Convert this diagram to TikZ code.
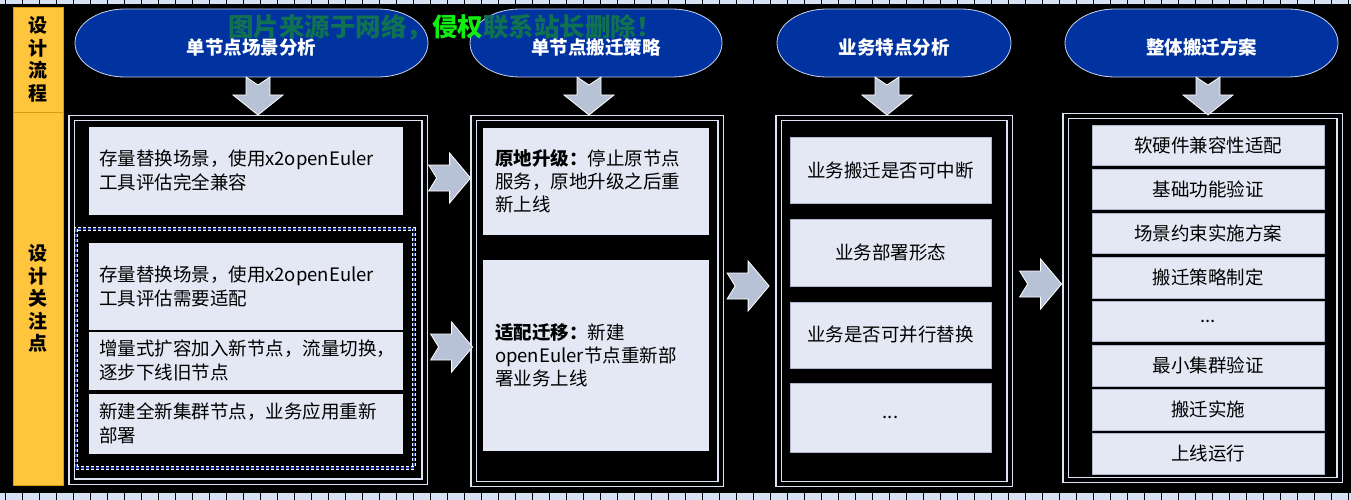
\documentclass[tikz,border=0pt]{standalone}
\usepackage{fontspec}
\setmainfont{Noto Sans CJK SC}
\usetikzlibrary{calc}
\definecolor{capblue}{HTML}{0033A0}
\definecolor{capedge}{HTML}{C8D4F0}
\definecolor{boxfill}{HTML}{E4E8F4}
\definecolor{boxedge}{HTML}{AEB6CC}
\definecolor{arrowfill}{HTML}{B7C2D6}
\definecolor{ybar}{HTML}{FFC53D}
\definecolor{yedge}{HTML}{D89A10}
\definecolor{stripc}{HTML}{D6E2F4}
\definecolor{wmteal}{HTML}{0F7052}
\definecolor{wmgreen}{HTML}{11EE11}
\definecolor{dashblue}{HTML}{2B4CC0}
\definecolor{framec}{HTML}{DCE3F4}
\newcommand\capsulepath[2]{(#1+50,9) -- (#2-50,9) .. controls (#2-22.4,9) and (#2,24.2) .. (#2,43) .. controls (#2,61.8) and (#2-22.4,77) .. (#2-50,77) -- (#1+50,77) .. controls (#1+22.4,77) and (#1,61.8) .. (#1,43) .. controls (#1,24.2) and (#1+22.4,9) .. (#1+50,9) -- cycle}
\tikzset{
  body/.style={font=\fontsize{18.5}{24}\selectfont, text=black},
  titletext/.style={font=\bfseries\fontsize{18.5}{22}\selectfont, text=white, inner sep=0},
  capsulestyle/.style={fill=capblue, draw=capedge, line width=0.8},
  ybox/.style={fill=ybar, draw=yedge, line width=0.8, minimum width=50, inner sep=0, align=center,
    font=\bfseries\fontsize{19}{22.5}\selectfont, text=black},
  frame/.style={draw=framec, double=black, double distance=4, line width=1.2, inner sep=0},
  dashframe/.style={draw=dashblue, line width=1.6, dash pattern=on 3pt off 2pt, inner sep=0,
    preaction={draw=white, line width=3.4}},
  box/.style={fill=boxfill, draw=boxedge, line width=0.6, inner sep=0, body, align=center},
  lbox/.style={fill=boxfill, draw=black, line width=0.8, inner ysep=0, body, align=left},
  wm/.style={font=\bfseries\fontsize{25.5}{25.5}\selectfont, inner sep=0, outer sep=0, anchor=west},
  darr/.pic={\path[fill=arrowfill, draw=white, line width=0.8]
    (-12,0) -- (-12,18) -- (-25,18) -- (0,38) -- (25,18) -- (12,18) -- (12,0) -- (0,8) -- cycle;},
  rarr/.pic={\path[fill=arrowfill, draw=white, line width=0.8]
    (0,-13) -- (21,-13) -- (21,-25) -- (42,0) -- (21,25) -- (21,13) -- (0,13) -- (8,0) -- cycle;}
}
\begin{document}
\begin{tikzpicture}[x=1pt,y=-1pt]
\useasboundingbox (0,0) rectangle (1351,500);
\fill[black] (0,0) rectangle (1351,500);
% edge strips
\fill[stripc] (0,0) rectangle (1351,4);
\fill[stripc] (0,493) rectangle (1351,500);
\foreach \i in {0,...,79} {
  \draw[black, line width=1] (5+17*\i,0) -- (5+17*\i,4);
  \draw[black, line width=1] (5+17*\i,493) -- (5+17*\i,500);
}
% left yellow bar
\node[ybox, minimum height=105] (y1) at (38,59.5) {设\\计\\流\\程};
\node[ybox, minimum height=373] (y2) at (38,298.5) {设\\计\\关\\注\\点};
% capsules
\path[capsulestyle] \capsulepath{75}{428};
\path[capsulestyle] \capsulepath{470}{722};
\path[capsulestyle] \capsulepath{777}{1011};
\path[capsulestyle] \capsulepath{1065}{1338};
\node[titletext] (t1) at (251.5,47) {单节点场景分析};
\node[titletext] (t2) at (596,47) {单节点搬迁策略};
\node[titletext] (t3) at (894,47) {业务特点分析};
\node[titletext] (t4) at (1201.5,47) {整体搬迁方案};
% watermark
\node[wm, text=wmteal] (wm1) at (228,27) {图片来源于网络，};
\node[wm, text=wmgreen] (wm2) at (wm1.east) {侵权};
\node[wm, text=wmteal] (wm3) at (wm2.east) {联系站长删除！};
% frames
\node[frame, minimum width=353, minimum height=363.5] (col1) at (248,299.75) {};
\node[frame, minimum width=247, minimum height=366] (col2) at (597,301) {};
\node[frame, minimum width=231, minimum height=366] (col3) at (894,301) {};
\node[frame, minimum width=274, minimum height=364] (col4) at (1202.5,298) {};
% down arrows (from capsule bottom at y=77 to frame top)
\pic at ($(t1.center)+(6.5,30)$) {darr};
\pic at ($(t2.center)+(-7,30)$) {darr};
\pic at ($(t3.center)+(-7,30)$) {darr};
\pic at ($(t4.center)+(6.5,30)$) {darr};
% column 1
\node[lbox, text width=293, inner xsep=11, minimum height=89] (bA) at (245.5,170.5)
  {存量替换场景，使用x2openEuler\\工具评估完全兼容};
\node[dashframe, minimum width=338, minimum height=239] (dA) at (245,348.5) {};
\node[lbox, text width=293, inner xsep=11, minimum height=88] (bB) at (245.5,286)
  {存量替换场景，使用x2openEuler\\工具评估需要适配};
\node[lbox, text width=293, inner xsep=11, minimum height=59] (bC) at (245.5,360.5)
  {增量式扩容加入新节点，流量切换，\\逐步下线旧节点};
\node[lbox, text width=293, inner xsep=11, minimum height=61] (bD) at (245.5,423.5)
  {新建全新集群节点，业务应用重新\\部署};
% column 2
\node[lbox, font=\fontsize{18.5}{23}\selectfont, text width=201, inner xsep=13, minimum height=108] (bE) at (595.5,181)
  {\textbf{原地升级：}停止原节点\\服务，原地升级之后重\\新上线};
\node[lbox, font=\fontsize{18.5}{23}\selectfont, text width=201, inner xsep=13, minimum height=192] (bF) at (595.5,355)
  {\textbf{适配迁移：}新建\\openEuler节点重新部\\署业务上线};
% column 3
\node[box, minimum width=201, minimum height=66] (bG) at (890.5,170) {业务搬迁是否可中断};
\node[box, minimum width=201, minimum height=67] (bH) at (890.5,252.5) {业务部署形态};
\node[box, minimum width=201, minimum height=66] (bI) at (890.5,335) {业务是否可并行替换};
\node[box, minimum width=201, minimum height=69] (bJ) at (890.5,417.5) {...};
% column 4
\node[box, minimum width=232, minimum height=40] (bK) at (1208,145.5) {软硬件兼容性适配};
\node[box, minimum width=232, minimum height=40] (bL) at (1208,189.5) {基础功能验证};
\node[box, minimum width=232, minimum height=40] (bM) at (1208,233.5) {场景约束实施方案};
\node[box, minimum width=232, minimum height=41] (bN) at (1208,277.5) {搬迁策略制定};
\node[box, minimum width=232, minimum height=40] (bO) at (1208,321.5) {...};
\node[box, minimum width=232, minimum height=41] (bP) at (1208,365.5) {最小集群验证};
\node[box, minimum width=232, minimum height=41] (bQ) at (1208,409.5) {搬迁实施};
\node[box, minimum width=232, minimum height=41] (bR) at (1208,453.5) {上线运行};
% right arrows between columns
\pic at ($(col1.east |- bA.center)+(3.5,7.5)$) {rarr};
\pic at ($(col1.east |- bC.center)+(5.5,-13.5)$) {rarr};
\pic at ($(col2.east |- bI.center)+(6,-49)$) {rarr};
\pic at ($(col3.east |- bN.center)+(9.5,6.5)$) {rarr};
\end{tikzpicture}
\end{document}
